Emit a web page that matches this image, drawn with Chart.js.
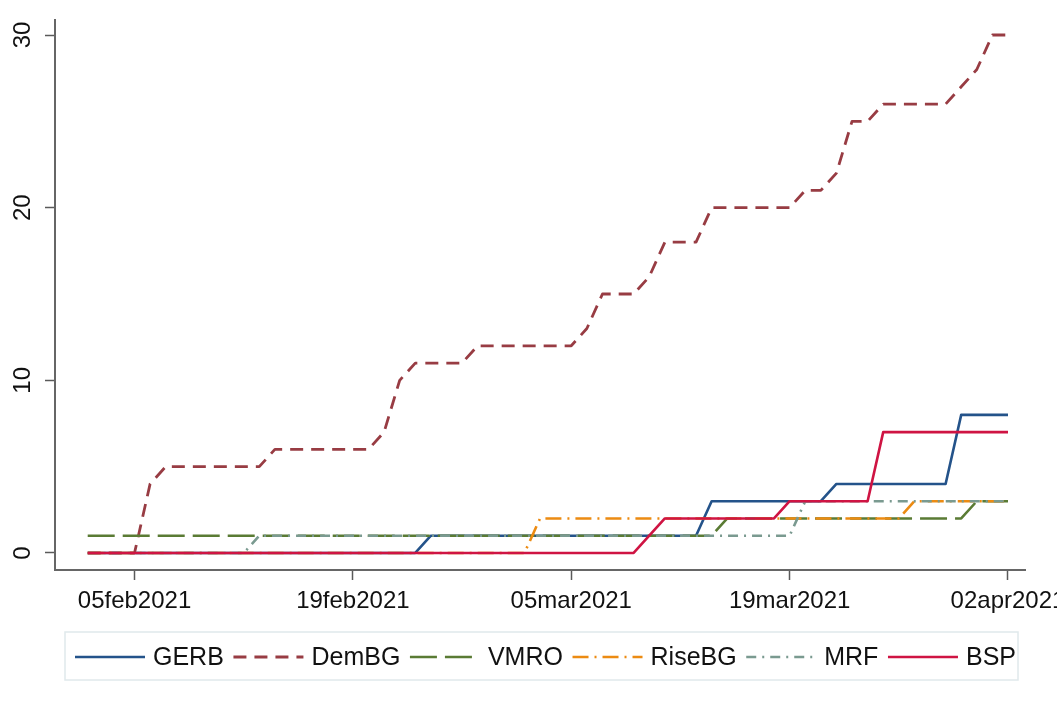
<!DOCTYPE html>
<html>
<head>
<meta charset="utf-8">
<script src="https://cdn.jsdelivr.net/npm/chart.js@4.4.1/dist/chart.umd.min.js"></script>
<style>
  html, body { margin: 0; padding: 0; background: #ffffff; }
  #wrap { width: 1057px; height: 709px; position: relative; overflow: hidden; }
</style>
</head>
<body>
<div id="wrap"><canvas id="c" width="1057" height="709"></canvas></div>
<script>
// ---- data (daily, 02feb2021 .. 02apr2021; x = days since 02feb2021) ----
const startDate = '02feb2021';
const dayIndex = Array.from({ length: 60 }, (_, i) => i);

const seriesNames = ['GERB', 'DemBG', 'VMRO', 'RiseBG', 'MRF', 'BSP'];

const GERB = [0,0,0,0,0,0,0,0,0,0, 0,0,0,0,0,0,0,0,0,0, 0,0,1,1,1,1,1,1,1,1, 1,1,1,1,1,1,1,1,1,1, 3,3,3,3,3,3,3,3,4,4, 4,4,4,4,4,4,8,8,8,8];
const DemBG = [0,0,0,0,4,5,5,5,5,5, 5,5,6,6,6,6,6,6,6,7, 10,11,11,11,11,12,12,12,12,12, 12,12,13,15,15,15,16,18,18,18, 20,20,20,20,20,20,21,21,22,25, 25,26,26,26,26,26,27,28,30,30];
const VMRO = [1,1,1,1,1,1,1,1,1,1, 1,1,1,1,1,1,1,1,1,1, 1,1,1,1,1,1,1,1,1,1, 1,1,1,1,1,1,1,1,1,1, 1,2,2,2,2,2,2,2,2,2, 2,2,2,2,2,2,2,3,3,3];
const RiseBG = [0,0,0,0,0,0,0,0,0,0, 0,0,0,0,0,0,0,0,0,0, 0,0,0,0,0,0,0,0,0,2, 2,2,2,2,2,2,2,2,2,2, 2,2,2,2,2,2,2,2,2,2, 2,2,2,3,3,3,3,3,3,3];
const MRF = [0,0,0,0,0,0,0,0,0,0, 0,1,1,1,1,1,1,1,1,1, 1,1,1,1,1,1,1,1,1,1, 1,1,1,1,1,1,1,1,1,1, 1,1,1,1,1,1,3,3,3,3, 3,3,3,3,3,3,3,3,3,3];
const BSP = [0,0,0,0,0,0,0,0,0,0, 0,0,0,0,0,0,0,0,0,0, 0,0,0,0,0,0,0,0,0,0, 0,0,0,0,0,0,1,2,2,2, 2,2,2,2,2,3,3,3,3,3, 3,7,7,7,7,7,7,7,7,7];

const xTickDays = [3, 17, 31, 45, 59];
const xTickLabels = ['05feb2021', '19feb2021', '05mar2021', '19mar2021', '02apr2021'];
const yTickValues = [0, 10, 20, 30];

// ---- styles ----
const FONT = "'Liberation Sans', Arial, Helvetica, sans-serif";
const seriesValues = [GERB, DemBG, VMRO, RiseBG, MRF, BSP];
const seriesColors = ['#24538a', '#983c43', '#5a7b34', '#ec8b12', '#7a9a90', '#cf1443'];
const seriesDash = [[], [13, 8], [27, 8], [16, 6, 2, 6], [10, 6, 2, 6], []];
const seriesWidth = [2.6, 2.8, 2.6, 2.6, 2.6, 2.6];

const legendPlugin = {
  id: 'stataLegend',
  afterDraw(chart) {
    const ctx = chart.ctx;
    const ds = chart.data.datasets;
    ctx.save();
    ctx.strokeStyle = '#e0e9eb';
    ctx.lineWidth = 1.5;
    ctx.strokeRect(65, 632, 953, 48);
    ctx.font = '25px ' + FONT;
    const sample = 70, gapText = 8, startX = 75, endX = 1016, cy = 657;
    const widths = ds.map(d => ctx.measureText(d.label).width);
    const content = ds.length * (sample + gapText) + widths.reduce((a, b) => a + b, 0);
    const G = (endX - startX - content) / (ds.length - 1);
    let x = startX;
    ds.forEach((d, i) => {
      ctx.setLineDash(d.borderDash || []);
      ctx.strokeStyle = d.borderColor;
      ctx.lineWidth = d.borderWidth;
      ctx.lineCap = 'butt';
      ctx.beginPath();
      ctx.moveTo(x, cy);
      ctx.lineTo(x + sample, cy);
      ctx.stroke();
      ctx.setLineDash([]);
      ctx.fillStyle = '#111';
      ctx.textBaseline = 'middle';
      ctx.textAlign = 'left';
      ctx.fillText(d.label, x + sample + gapText, cy + 1);
      x += sample + gapText + widths[i] + G;
    });
    ctx.restore();
  }
};

new Chart(document.getElementById('c').getContext('2d'), {
  type: 'line',
  data: {
    datasets: seriesNames.map((name, i) => ({
      label: name,
      data: seriesValues[i].map((v, j) => ({ x: dayIndex[j], y: v })),
      borderColor: seriesColors[i],
      backgroundColor: seriesColors[i],
      borderWidth: seriesWidth[i],
      borderDash: seriesDash[i],
      borderJoinStyle: 'round',
      pointRadius: 0,
      tension: 0,
      fill: false,
      order: seriesNames.length - i
    }))
  },
  options: {
    responsive: false,
    animation: false,
    devicePixelRatio: 1,
    layout: { padding: { left: 0, right: 32, top: 20, bottom: 80 } },
    plugins: { legend: { display: false }, tooltip: { enabled: false } },
    scales: {
      x: {
        type: 'linear',
        min: -2.097,
        max: 60.09,
        afterBuildTicks: s => { s.ticks = xTickDays.map(v => ({ value: v })); },
        afterFit: s => { s.height = 59; s.paddingLeft = 0; s.paddingRight = 0; },
        ticks: {
          autoSkip: false, maxRotation: 0, minRotation: 0, padding: 7,
          color: '#111', font: { family: FONT, size: 24 },
          callback: v => { const k = xTickDays.indexOf(v); return k >= 0 ? xTickLabels[k] : ''; }
        },
        grid: { display: true, drawOnChartArea: false, drawTicks: true, tickLength: 10, tickColor: '#5a5a5a', tickWidth: 1.5 },
        border: { display: true, color: '#666', width: 2 }
      },
      y: {
        type: 'linear',
        min: -0.985,
        max: 30.869,
        afterBuildTicks: s => { s.ticks = yTickValues.map(v => ({ value: v })); },
        afterFit: s => { s.width = 55; s.paddingTop = 0; s.paddingBottom = 0; },
        ticks: {
          minRotation: 90, maxRotation: 90, crossAlign: 'center', padding: 8,
          color: '#111', font: { family: FONT, size: 24 },
          callback: v => String(v)
        },
        grid: { display: true, drawOnChartArea: false, drawTicks: true, tickLength: 10, tickColor: '#5a5a5a', tickWidth: 1.5 },
        border: { display: true, color: '#666', width: 2 }
      }
    }
  },
  plugins: [legendPlugin]
});
</script>
</body>
</html>
